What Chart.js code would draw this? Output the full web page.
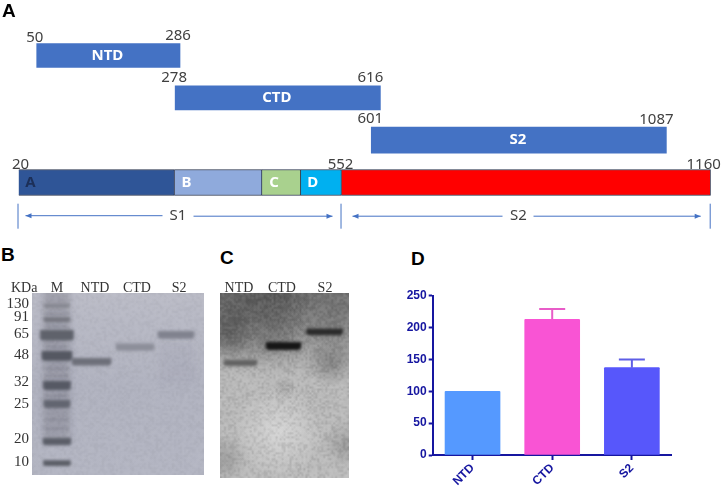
<!DOCTYPE html>
<html>
<head>
<meta charset="utf-8">
<title>Spike fragments</title>
<script src="https://cdn.jsdelivr.net/npm/chart.js@4/dist/chart.umd.js"></script>
<style>
  html, body { margin: 0; padding: 0; background: #fff; }
  #page { position: relative; width: 722px; height: 487px; overflow: hidden; }
  canvas { position: absolute; filter: blur(0.3px); }
  .letter { position: absolute; font: bold 19px "Liberation Sans", sans-serif; color: #000; line-height: 1; }
  .kda { position: absolute; font: 14px "Liberation Serif", serif; color: #333; line-height: 1; }
</style>
</head>
<body>
<div id="page">
  <canvas id="panelA" width="722" height="240" style="left:0;top:0"></canvas>
  <canvas id="panelB" width="210" height="217" style="left:0;top:270px"></canvas>
  <canvas id="panelC" width="160" height="217" style="left:210px;top:270px"></canvas>
  <canvas id="panelD" width="322" height="207" style="left:400px;top:280px"></canvas>
  <div class="letter" style="left:2px;top:1px">A</div>
  <div class="letter" style="left:1px;top:245px">B</div>
  <div class="letter" style="left:220px;top:248px">C</div>
  <div class="letter" style="left:411px;top:249px">D</div>
  <div class="kda" style="left:11px;top:281px">KDa</div>
</div>

<script>
// panel A, residue numbers
const rows = ['NTD', 'CTD', 'S2', 'Spike'];
const fragmentNames = ['NTD', 'CTD', 'S2'];
const fragmentStart = [50, 278, 601];
const fragmentEnd = [286, 616, 1087];
const domainNames = ['A', 'B', 'C', 'D', ''];
const domainStart = [20, 277, 421, 485, 552];
const domainEnd = [277, 421, 485, 552, 1160];
const siteValues = [50, 286, 278, 616, 601, 1087, 20, 552, 1160];
const siteRows = [0, 0, 1, 1, 2, 2, 3, 3, 3];
const subunitNames = ['S1', 'S2'];
const subunitBounds = [20, 552, 1160];

// panel B, SDS-PAGE: migration is percent of gel height
const kdaLabels = ['130', '91', '65', '48', '32', '25', '20', '10'];
const kdaTicks = [5.9, 13, 22.7, 34.1, 49.2, 61.1, 80.5, 93];
const markerMigration = [7, 14.6, 23.2, 34.6, 50.8, 61, 81.6, 93.5];
const markerHalfBand = [0.9, 1.1, 2.7, 2.5, 2.3, 2, 1.9, 1.4];
const gelBLanes = ['M', 'NTD', 'CTD', 'S2'];
const gelBLaneTicks = [14.5, 36.6, 61, 85.5];
const gelBLanePos = [34.6, 59.9, 83.7];
const gelBMigration = [37.8, 29.7, 23];
const gelBHalfBand = [1.9, 1.8, 2];

// panel C, western blot
const gelCLanes = ['NTD', 'CTD', 'S2'];
const gelCLaneTicks = [14.7, 48, 81.4];
const gelCLanePos = [15.9, 49.2, 81];
const gelCMigration = [37.8, 28.6, 21];
const gelCHalfBand = [1.5, 2, 1.6];

// panel D
const barLabels = ['NTD', 'CTD', 'S2'];
const barValues = [100, 213, 137];
const barErrorTop = [100, 229, 150];
const yTicksMax = 250;

Chart.defaults.animation = false;
Chart.defaults.responsive = false;
Chart.defaults.devicePixelRatio = 1;
Chart.defaults.plugins.legend.display = false;
Chart.defaults.plugins.tooltip.enabled = false;

const BLUE = '#4472C4';
const NAVY = '#1616a0';
const TEXT = '#404040';
const SANS = '"Noto Sans", sans-serif';
const SERIF = '"Liberation Serif", serif';

// ---- panel A ----
const domainColors = ['#2F5597', '#8FAADC', '#A9D18E', '#00B0F0', '#FF0000'];
const rowThickness = [24, 24, 26];
const siteNudge = [-2, -2, -1, -10, -1, -10, 2, -1, -7];
const siteLift = [5, 7, 7, 7, 8, 7, 5, 5, 5];

function floating(row, from, to) {
  const data = rows.map(() => null);
  data[row] = [from, to];
  return data;
}

const panelADatasets = [];
fragmentNames.forEach((name, i) => {
  panelADatasets.push({
    data: floating(i, fragmentStart[i], fragmentEnd[i]),
    backgroundColor: BLUE,
    barThickness: rowThickness[i],
    grouped: false
  });
});
domainStart.forEach((start, i) => {
  panelADatasets.push({
    data: floating(3, start, domainEnd[i]),
    backgroundColor: domainColors[i],
    borderColor: '#26304a',
    borderWidth: 1,
    barThickness: 26,
    grouped: false
  });
});

function arrow(ctx, x1, x2, y) {
  const dir = x2 > x1 ? 1 : -1;
  ctx.beginPath();
  ctx.moveTo(x1, y);
  ctx.lineTo(x2, y);
  ctx.stroke();
  ctx.beginPath();
  ctx.moveTo(x2, y);
  ctx.lineTo(x2 - dir * 6, y - 2.5);
  ctx.lineTo(x2 - dir * 6, y + 2.5);
  ctx.closePath();
  ctx.fill();
}

const panelALabels = {
  id: 'panelALabels',
  afterDatasetsDraw(chart) {
    const { ctx, scales: { x, y } } = chart;
    ctx.save();
    ctx.textAlign = 'center';
    ctx.textBaseline = 'middle';

    ctx.font = 'bold 15px ' + SANS;
    ctx.fillStyle = '#fff';
    fragmentNames.forEach((name, i) => {
      const mid = (fragmentStart[i] + fragmentEnd[i]) / 2;
      ctx.fillText(name, x.getPixelForValue(mid) - 1, y.getPixelForValue(i));
    });

    domainNames.forEach((name, i) => {
      ctx.fillStyle = i === 0 ? '#1c2f58' : '#fff';
      ctx.font = 'bold 15px ' + SANS;
      ctx.fillText(name, x.getPixelForValue(domainStart[i]) + 12, y.getPixelForValue(3));
    });

    ctx.font = '15px ' + SANS;
    ctx.fillStyle = TEXT;
    siteValues.forEach((v, i) => {
      const top = y.getPixelForValue(siteRows[i]) - 13;
      ctx.fillText(String(v), x.getPixelForValue(v) + siteNudge[i], top - siteLift[i]);
    });

    // S1 / S2 brackets under the bar
    const py = y.bottom + 12.5;
    const bx = subunitBounds.map(v => x.getPixelForValue(v));
    ctx.strokeStyle = BLUE;
    ctx.fillStyle = BLUE;
    ctx.lineWidth = 1;
    bx.forEach(px => {
      ctx.beginPath();
      ctx.moveTo(px - 0.5, y.bottom);
      ctx.lineTo(px - 0.5, y.bottom + 25);
      ctx.stroke();
    });
    arrow(ctx, bx[0] + 144, bx[0] + 7, py - 0.5);
    arrow(ctx, bx[1] - 148, bx[1] - 9, py);
    arrow(ctx, bx[1] + 161, bx[1] + 11, py);
    arrow(ctx, bx[1] + 192, bx[2] - 10, py);

    ctx.font = '15px ' + SANS;
    ctx.fillStyle = TEXT;
    ctx.fillText(subunitNames[0], (bx[0] + bx[1]) / 2 - 2, py);
    ctx.fillText(subunitNames[1], bx[1] + 177, py);
    ctx.restore();
  }
};

new Chart(document.getElementById('panelA'), {
  type: 'bar',
  data: { labels: rows, datasets: panelADatasets },
  options: {
    indexAxis: 'y',
    layout: { padding: { left: 18.5, right: 11.3, top: 34.3, bottom: 36.3 } },
    scales: {
      x: { type: 'linear', min: 20, max: 1160, display: false },
      y: { display: false }
    }
  },
  plugins: [panelALabels]
});

// ---- shared gel bits ----
const softBands = {
  id: 'softBands',
  beforeDatasetsDraw(chart, args, opts) {
    chart.ctx.filter = 'blur(' + opts.blur + 'px)';
  },
  afterDatasetsDraw(chart) {
    chart.ctx.filter = 'none';
  }
};

function hash(x, y) {
  const n = Math.sin(x * 12.9898 + y * 78.233) * 43758.5453;
  return n - Math.floor(n);
}

// fixed film grain, same picture on every run
function grain(ctx, area, cell, strength) {
  const w = Math.ceil(area.width / cell);
  const h = Math.ceil(area.height / cell);
  const off = document.createElement('canvas');
  off.width = w;
  off.height = h;
  const octx = off.getContext('2d');
  const img = octx.createImageData(w, h);
  for (let j = 0; j < h; j++) {
    for (let i = 0; i < w; i++) {
      const n = hash(i, j);
      const k = (i + j * w) * 4;
      const v = n > 0.5 ? 255 : 0;
      img.data[k] = v;
      img.data[k + 1] = v;
      img.data[k + 2] = v;
      img.data[k + 3] = Math.abs(n - 0.5) * 2 * strength;
    }
  }
  octx.putImageData(img, 0, 0);
  ctx.drawImage(off, area.left, area.top, area.width, area.height);
}

function blob(ctx, area, fx, fy, r, color) {
  const cx = area.left + fx * area.width;
  const cy = area.top + fy * area.height;
  const g = ctx.createRadialGradient(cx, cy, 0, cx, cy, r);
  g.addColorStop(0, color);
  g.addColorStop(1, color.replace(/[\d.]+\)$/, '0)'));
  ctx.fillStyle = g;
  ctx.fillRect(area.left, area.top, area.width, area.height);
}

function gelAxes(laneTicks, laneNames, labelSize, showY) {
  return {
    x: {
      type: 'linear', position: 'top', min: 0, max: 100, offset: false,
      border: { display: false },
      grid: { display: false, drawTicks: false, offset: false },
      afterBuildTicks: s => { s.ticks = laneTicks.map(v => ({ value: v })); },
      afterFit: s => { s.height = 23; },
      ticks: {
        autoSkip: false, maxRotation: 0, padding: -4,
        font: { family: SERIF, size: labelSize }, color: '#333',
        callback: (v, i) => laneNames[i]
      }
    },
    y: {
      type: 'linear', min: 0, max: 100, reverse: true, display: showY,
      border: { display: false },
      grid: { display: false, drawTicks: false },
      afterBuildTicks: s => { s.ticks = kdaTicks.map(v => ({ value: v })); },
      afterFit: s => { s.width = showY ? 32 : 0; },
      ticks: {
        autoSkip: false, padding: 3,
        font: { family: SERIF, size: 15 }, color: '#333',
        callback: (v, i) => kdaLabels[i]
      }
    }
  };
}

// ---- panel B ----
const markerWidths = [25, 26, 33, 30, 27, 26, 28, 27];
const markerColors = ['#85868f', '#75767f', '#5f626b', '#555862', '#565964', '#626570', '#5b5e68', '#5a5d66'];
const gelBThickness = [39, 38, 36];
const gelBColors = ['#6d6f79', '#8c8e99', '#80828e'];
// faint extra bands in the marker lane, fractions of gel height
const markerFaint = [0.11, 0.18, 0.29, 0.41, 0.45, 0.56, 0.69, 0.74];

const panelBDatasets = [];
markerMigration.forEach((m, i) => {
  panelBDatasets.push({
    data: [{ x: 14.5, y: [m - markerHalfBand[i], m + markerHalfBand[i]] }],
    backgroundColor: markerColors[i],
    barThickness: markerWidths[i],
    borderRadius: 3,
    grouped: false
  });
});
gelBLanePos.forEach((p, i) => {
  panelBDatasets.push({
    data: [{ x: p, y: [gelBMigration[i] - gelBHalfBand[i], gelBMigration[i] + gelBHalfBand[i]] }],
    backgroundColor: gelBColors[i],
    barThickness: gelBThickness[i],
    borderRadius: 4,
    grouped: false
  });
});

const gelBBack = {
  id: 'gelBBack',
  beforeDatasetsDraw(chart) {
    const { ctx, chartArea: a } = chart;
    ctx.save();
    const g = ctx.createLinearGradient(0, a.top, 0, a.bottom);
    g.addColorStop(0, '#bbbcc7');
    g.addColorStop(0.5, '#b1b3c0');
    g.addColorStop(1, '#b4b6c3');
    ctx.fillStyle = g;
    ctx.fillRect(a.left, a.top, a.width, a.height);
    // marker lane smear and the faint trails under the S2 lane
    ctx.beginPath();
    ctx.rect(a.left, a.top, a.width, a.height);
    ctx.clip();
    ctx.filter = 'blur(3px)';
    ctx.fillStyle = 'rgba(95,96,110,0.3)';
    ctx.fillRect(a.left + 11, a.top - 4, 27, a.height * 0.82);
    ctx.fillStyle = 'rgba(150,150,165,0.18)';
    ctx.fillRect(a.left + 128, a.top + 50, 34, 40);
    ctx.filter = 'blur(1.2px)';
    ctx.fillStyle = 'rgba(95,96,110,0.2)';
    markerFaint.forEach(f => ctx.fillRect(a.left + 12, a.top + f * a.height, 25, 2));
    ctx.filter = 'none';
    grain(ctx, a, 2, 10);
    ctx.restore();
  }
};

new Chart(document.getElementById('panelB'), {
  type: 'bar',
  data: { datasets: panelBDatasets },
  options: {
    layout: { padding: { right: 6, bottom: 9 } },
    scales: gelAxes(gelBLaneTicks, gelBLanes, 14, true),
    plugins: { softBands: { blur: 1.5 } }
  },
  plugins: [gelBBack, softBands]
});

// ---- panel C ----
const gelCThickness = [33, 35, 36];
const gelCColors = ['#626262', '#161616', '#2a2a2a'];
const gelCBlotches = [
  [0.22, 0.06, 62, 'rgba(60,60,60,0.55)'],
  [0.5, 0.02, 40, 'rgba(60,60,60,0.4)'],
  [0.05, 0.2, 30, 'rgba(60,60,60,0.5)'],
  [0.45, 0.22, 32, 'rgba(80,80,80,0.28)'],
  [0.88, 0.1, 42, 'rgba(80,80,80,0.35)'],
  [0.86, 0.38, 24, 'rgba(70,70,70,0.4)'],
  [0.45, 0.75, 46, 'rgba(235,235,235,0.55)'],
  [0.03, 0.9, 26, 'rgba(90,90,90,0.3)'],
  [0.98, 0.82, 24, 'rgba(90,90,90,0.3)'],
  [0.5, 0.52, 12, 'rgba(110,110,110,0.25)']
];

const gelCBack = {
  id: 'gelCBack',
  beforeDatasetsDraw(chart) {
    const { ctx, chartArea: a } = chart;
    ctx.save();
    const g = ctx.createLinearGradient(0, a.top, 0, a.bottom);
    g.addColorStop(0, '#7a7a7a');
    g.addColorStop(0.28, '#999999');
    g.addColorStop(0.45, '#b9b9b9');
    g.addColorStop(1, '#bcbcbc');
    ctx.fillStyle = g;
    ctx.fillRect(a.left, a.top, a.width, a.height);
    gelCBlotches.forEach(b => blob(ctx, a, b[0], b[1], b[2], b[3]));
    grain(ctx, a, 2, 26);
    ctx.restore();
  }
};

new Chart(document.getElementById('panelC'), {
  type: 'bar',
  data: {
    datasets: gelCLanePos.map((p, i) => ({
      data: [{ x: p, y: [gelCMigration[i] - gelCHalfBand[i], gelCMigration[i] + gelCHalfBand[i]] }],
      backgroundColor: gelCColors[i],
      barThickness: gelCThickness[i],
      borderRadius: 4,
      grouped: false
    }))
  },
  options: {
    layout: { padding: { left: 10, right: 21, bottom: 9 } },
    scales: gelAxes(gelCLaneTicks, gelCLanes, 14, false),
    plugins: { softBands: { blur: 1.5 } }
  },
  plugins: [gelCBack, softBands]
});

// ---- panel D ----
const barColors = ['#5599FF', '#F954D4', '#5757FB'];
const errorColors = ['#5599FF', '#E85CC8', '#5E5EE6'];

const errorBars = {
  id: 'errorBars',
  afterDatasetsDraw(chart) {
    const { ctx, scales: { x, y } } = chart;
    ctx.save();
    ctx.lineWidth = 2;
    barLabels.forEach((label, i) => {
      if (barErrorTop[i] <= barValues[i]) return;
      const px = x.getPixelForValue(i);
      const top = y.getPixelForValue(barErrorTop[i]);
      ctx.strokeStyle = errorColors[i];
      ctx.beginPath();
      ctx.moveTo(px - 13, top);
      ctx.lineTo(px + 13, top);
      ctx.moveTo(px, top);
      ctx.lineTo(px, y.getPixelForValue(barValues[i]));
      ctx.stroke();
    });
    ctx.restore();
  }
};

new Chart(document.getElementById('panelD'), {
  type: 'bar',
  data: {
    labels: barLabels,
    datasets: [{
      data: barValues,
      backgroundColor: barColors,
      barThickness: 55,
      borderRadius: 1
    }]
  },
  options: {
    layout: { padding: { top: 15.7, right: 50.3 } },
    scales: {
      x: {
        border: { color: NAVY, width: 2 },
        grid: { drawOnChartArea: false, offset: false, color: NAVY, tickColor: NAVY, tickLength: 5, tickWidth: 2 },
        afterFit: s => { s.height = 32; },
        ticks: {
          autoSkip: false, minRotation: 45, maxRotation: 45, padding: 1,
          color: NAVY, font: { family: '"Liberation Sans", sans-serif', size: 12, weight: 'bold' }
        }
      },
      y: {
        min: 0, max: yTicksMax,
        border: { color: NAVY, width: 2 },
        grid: { drawOnChartArea: false, color: NAVY, tickColor: NAVY, tickLength: 4, tickWidth: 2 },
        afterFit: s => { s.width = 32.7; },
        ticks: {
          stepSize: 50, padding: 2,
          color: NAVY, font: { family: '"Liberation Sans", sans-serif', size: 12, weight: 'bold' }
        }
      }
    }
  },
  plugins: [errorBars]
});
</script>
</body>
</html>
